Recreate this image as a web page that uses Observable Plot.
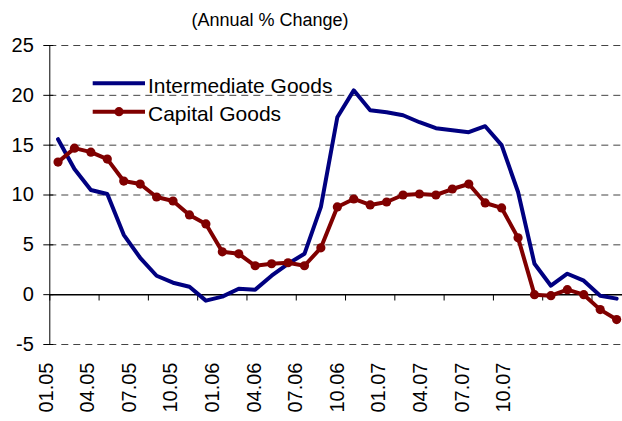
<!DOCTYPE html>
<html>
<head>
<meta charset="utf-8">
<script src="https://cdn.jsdelivr.net/npm/d3@7"></script>
<script src="https://cdn.jsdelivr.net/npm/@observablehq/plot@0.6"></script>
<style>
  body { margin: 0; background: #fff; font-family: "Liberation Sans", Arial, sans-serif; }
  #wrap { position: relative; width: 622px; height: 421px; overflow: hidden; background: #fff; }
  #title { position: absolute; left: 120px; width: 300px; top: 10px; text-align: center; font-size: 18px; color: #000; }
  #legend { position: absolute; left: 0; top: 0; pointer-events: none; }
  #main { position: absolute; left: 0; top: 0; }
  #xlabels { position: absolute; left: 0; top: 350px; }
  #main svg, #xlabels svg { display: block; }
</style>
</head>
<body>
<div id="wrap">
  <div id="main"></div>
  <div id="xlabels"></div>
  <div id="title">(Annual % Change)</div>
</div>
<script>
// Monthly categories, 01.05 .. 12.07 (last month has no data)
const months = ["01.05","02.05","03.05","04.05","05.05","06.05","07.05","08.05","09.05","10.05","11.05","12.05",
                "01.06","02.06","03.06","04.06","05.06","06.06","07.06","08.06","09.06","10.06","11.06","12.06",
                "01.07","02.07","03.07","04.07","05.07","06.07","07.07","08.07","09.07","10.07","11.07","12.07"];
const seriesNames = ["Intermediate Goods", "Capital Goods"];
const intermediate = [15.6, 12.6, 10.5, 10.1, 6.0, 3.7, 1.9, 1.2, 0.8, -0.6, -0.2, 0.6,
                      0.5, 1.9, 3.1, 4.1, 8.8, 17.8, 20.5, 18.5, 18.3, 18.0, 17.3, 16.7,
                      16.5, 16.3, 16.9, 15.0, 10.3, 3.1, 0.9, 2.1, 1.4, -0.1, -0.4];
const capital = [13.3, 14.7, 14.3, 13.6, 11.4, 11.1, 9.8, 9.4, 8.0, 7.1, 4.3, 4.1,
                 2.9, 3.1, 3.2, 2.9, 4.7, 8.8, 9.6, 9.0, 9.3, 10.0, 10.1, 10.0,
                 10.6, 11.1, 9.2, 8.7, 5.7, 0.0, -0.1, 0.5, 0.0, -1.5, -2.5];
const xTickLabels = ["01.05","04.05","07.05","10.05","01.06","04.06","07.06","10.06","01.07","04.07","07.07","10.07"];
const yTicks = [-5, 0, 5, 10, 15, 20, 25];
const colors = ["#000080", "#800000"];

const rows = intermediate.map((v, i) => ({i, month: months[i], inter: v, cap: capital[i]}));
const xDomain = [-0.5, months.length - 0.5];
const boundaries = months.map((m, i) => i).filter(i => i % 3 === 0).map(i => i - 0.5);

const font = {fontFamily: "'Liberation Sans', Arial, sans-serif", fontSize: "20px", background: "transparent"};

const main = Plot.plot({
  width: 622, height: 362,
  marginLeft: 49.3, marginRight: 0, marginTop: 45, marginBottom: 18,
  style: font,
  x: {domain: xDomain, range: [49.3, 49.3 + 16.43 * months.length], axis: null},
  y: {domain: [yTicks[0], yTicks[yTicks.length - 1]]},
  marks: [
    Plot.ruleY(yTicks.filter(d => d !== 0), {stroke: "#444", strokeWidth: 1, strokeDasharray: "7,5"}),
    Plot.ruleX([xDomain[0]], {stroke: "#000", strokeWidth: 1}),
    Plot.ruleY(yTicks, {x1: xDomain[0], x2: xDomain[0], insetLeft: -6, insetRight: -4, stroke: "#000", strokeWidth: 1}),
    Plot.ruleY([0], {stroke: "#000", strokeWidth: 1.5}),
    Plot.ruleX(boundaries, {y1: 0, y2: yTicks[0], insetBottom: 43.5, stroke: "#000", strokeWidth: 1}),
    Plot.axisY(yTicks, {tickSize: 0, tickPadding: 16, fontSize: 20, tickFormat: d => String(d)}),
    Plot.line(rows, {x: "i", y: "inter", stroke: colors[0], strokeWidth: 4, strokeLinejoin: "round"}),
    Plot.line(rows, {x: "i", y: "cap", stroke: colors[1], strokeWidth: 4, strokeLinejoin: "round"}),
    Plot.dot(rows, {x: "i", y: "cap", r: 4.6, fill: colors[1], stroke: "none"})
  ]
});
document.getElementById("main").appendChild(main);

const labels = Plot.plot({
  width: 622, height: 71, margin: 0,
  style: font,
  x: {type: "linear", domain: [0, xTickLabels.length - 1], range: [45.7, 45.7 + 41.6 * (xTickLabels.length - 1)], axis: null},
  marks: [
    Plot.text(xTickLabels, {x: (d, i) => i, frameAnchor: "top", dy: 12, rotate: -90, textAnchor: "end", lineAnchor: "middle", fontSize: 20, fill: "#000"})
  ]
});
document.getElementById("xlabels").appendChild(labels);

// Legend
const ns = "http://www.w3.org/2000/svg";
const leg = document.createElementNS(ns, "svg");
leg.setAttribute("id", "legend");
leg.setAttribute("width", 622);
leg.setAttribute("height", 421);
const legendRows = [
  {name: seriesNames[0], color: colors[0], y: 83.3, base: 93.3, dot: false},
  {name: seriesNames[1], color: colors[1], y: 111.7, base: 121, dot: true}
];
for (const r of legendRows) {
  const ln = document.createElementNS(ns, "line");
  ln.setAttribute("x1", 92.7); ln.setAttribute("x2", 145);
  ln.setAttribute("y1", r.y); ln.setAttribute("y2", r.y);
  ln.setAttribute("stroke", r.color); ln.setAttribute("stroke-width", 4);
  leg.appendChild(ln);
  if (r.dot) {
    const c = document.createElementNS(ns, "circle");
    c.setAttribute("cx", 119); c.setAttribute("cy", r.y); c.setAttribute("r", 4.6);
    c.setAttribute("fill", r.color);
    leg.appendChild(c);
  }
  const t = document.createElementNS(ns, "text");
  t.setAttribute("x", 148); t.setAttribute("y", r.base);
  t.setAttribute("font-size", 21);
  t.setAttribute("font-family", "'Liberation Sans', Arial, sans-serif");
  t.setAttribute("fill", "#000");
  t.textContent = r.name;
  leg.appendChild(t);
}
document.getElementById("wrap").appendChild(leg);
</script>
</body>
</html>
